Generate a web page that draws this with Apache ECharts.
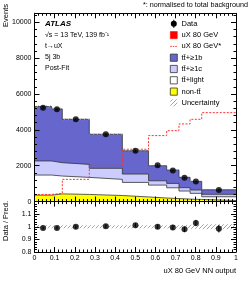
<!DOCTYPE html>
<html><head><meta charset="utf-8">
<script src="https://cdn.jsdelivr.net/npm/echarts@6/dist/echarts.min.js"></script>
<style>html,body{margin:0;padding:0;background:#fff}#c{width:249px;height:281px}</style>
</head><body><div id="c"></div>
<script>
// ---- data ----
const binEdges = [0, 0.085, 0.138, 0.272, 0.436, 0.566, 0.656, 0.717, 0.772, 0.83, 1];
const nonTT   = [360, 430, 400, 340, 260, 200, 170, 140, 120, 60];
const ttLight = [1120, 995, 950, 900, 810, 720, 600, 450, 340, 210];
const tt1c    = [785, 745, 725, 615, 465, 240, 245, 185, 185, 135];
const tt1b    = [3035, 3000, 2515, 1900, 1300, 840, 745, 580, 485, 255];
const signalNorm = [400, 460, 1240, 2020, 2920, 3680, 3955, 4330, 4590, 4960];
const dataVals = [5240, 5150, 4590, 3750, 2830, 2020, 1730, 1335, 1115, 640];
const dataErr  = [72, 72, 68, 61, 53, 45, 42, 37, 33, 25];
const ratioVals = [0.99, 0.99, 1.0, 1.005, 1.012, 1.0, 0.995, 0.98, 1.03, 0.985];
const ratioErr  = [0.012, 0.012, 0.013, 0.014, 0.016, 0.018, 0.02, 0.022, 0.025, 0.03];
const relUnc    = [0.012, 0.012, 0.012, 0.012, 0.012, 0.012, 0.013, 0.014, 0.016, 0.02];
const xTicks = ['0','0.1','0.2','0.3','0.4','0.5','0.6','0.7','0.8','0.9','1'];
const legendNames = ['Data','uX 80 GeV','uX 80 GeV*','tt\u0304+\u22651b','tt\u0304+\u22651c','tt\u0304+light','non-tt\u0304','Uncertainty'];

// ---- derived ----
const nb = binEdges.length - 1;
const centers = [];
for (let i = 0; i < nb; i++) centers.push((binEdges[i] + binEdges[i+1]) / 2);
const lvlNon = nonTT.slice();
const lvlLight = lvlNon.map((v,i)=>v+ttLight[i]);
const lvl1c = lvlLight.map((v,i)=>v+tt1c[i]);
const lvlTot = lvl1c.map((v,i)=>v+tt1b[i]);
function stepPts(vals){ const p = []; for (let i=0;i<nb;i++) p.push([binEdges[i], vals[i]]); p.push([binEdges[nb], vals[nb-1]]); return p; }

const FONT = '"Liberation Sans", Arial, sans-serif';
function hatch(){
  const c = document.createElement('canvas'); c.width = 4; c.height = 4;
  const g = c.getContext('2d'); g.strokeStyle = '#9a9a9a'; g.lineWidth = 0.9;
  g.beginPath(); g.moveTo(0,4); g.lineTo(4,0); g.moveTo(-1,1); g.lineTo(1,-1); g.moveTo(3,5); g.lineTo(5,3); g.stroke();
  return {image: c, repeat: 'repeat'};
}
const HATCH = hatch();

const chart = echarts.init(document.getElementById('c'), null, {renderer:'canvas'});

function xa(gi, pos, labels){
  return {type:'value', gridIndex:gi, position:pos, min:0, max:1, interval:0.1, z:10,
    axisLine:{show:true, onZero:false, lineStyle:{color:'#000', width:1}},
    axisTick:{show:true, inside:true, length:5, lineStyle:{color:'#000', width:1}},
    minorTick:{show:true, splitNumber:5, length:2.5, lineStyle:{color:'#000', width:1}},
    splitLine:{show:false},
    axisLabel:{show:labels, fontSize:7, color:'#000', fontFamily:FONT, margin:3,
      formatter:(v)=>xTicks[Math.round(v*10)]}};
}
function ya(gi, pos, labels, min, max, interval, fmt){
  return {type:'value', gridIndex:gi, position:pos, min:min, max:max, interval:interval, z:10,
    axisLine:{show:true, onZero:false, lineStyle:{color:'#000', width:1}},
    axisTick:{show:true, inside:true, length:5, lineStyle:{color:'#000', width:1}},
    minorTick:{show:true, splitNumber:5, length:2.5, lineStyle:{color:'#000', width:1}},
    splitLine:{show:false},
    axisLabel:{show:labels, fontSize:7, color:'#000', fontFamily:FONT, margin:3, showMaxLabel:false, formatter:fmt}};
}

function areaSeries(vals, color){
  return {type:'line', xAxisIndex:0, yAxisIndex:0, step:'end', data:stepPts(vals), showSymbol:false, silent:true,
    lineStyle:{color:'#333', width:0.8}, areaStyle:{color:color, opacity:1, origin:'start'}, z:2};
}
function bandSeries(xi, yi, lo, hi){
  const d = []; for (let i=0;i<nb;i++) d.push([binEdges[i], binEdges[i+1], lo[i], hi[i]]);
  return {type:'custom', xAxisIndex:xi, yAxisIndex:yi, data:d, z:3, silent:true,
    renderItem:(p, api)=>{
      const a = api.coord([api.value(0), api.value(3)]);
      const b = api.coord([api.value(1), api.value(2)]);
      return {type:'rect', shape:{x:a[0], y:a[1], width:b[0]-a[0], height:b[1]-a[1]}, style:{fill:HATCH}};
    }};
}
function errSeries(xi, yi, xs, ys, es){
  const d = xs.map((x,i)=>[x, ys[i]-es[i], ys[i]+es[i]]);
  return {type:'custom', xAxisIndex:xi, yAxisIndex:yi, data:d, z:5, silent:true,
    renderItem:(p, api)=>{
      const a = api.coord([api.value(0), api.value(1)]);
      const b = api.coord([api.value(0), api.value(2)]);
      return {type:'line', shape:{x1:a[0], y1:a[1], x2:b[0], y2:b[1]}, style:{stroke:'#000', lineWidth:1}};
    }};
}

const mainLo = lvlTot.map((v,i)=>v*(1-relUnc[i]));
const mainHi = lvlTot.map((v,i)=>v*(1+relUnc[i]));
const rLo = relUnc.map(u=>1-u), rHi = relUnc.map(u=>1+u);

const series = [
  areaSeries(lvlTot, '#6666cc'),
  areaSeries(lvl1c, '#ccccff'),
  areaSeries(lvlLight, '#ffffff'),
  areaSeries(lvlNon, '#ffff00'),
  bandSeries(0, 0, mainLo, mainHi),
  {type:'line', xAxisIndex:0, yAxisIndex:0, step:'end', data:stepPts(signalNorm), showSymbol:false, silent:true,
    lineStyle:{color:'#ff3030', width:1, type:[2,1.5]}, z:4},
  errSeries(0, 0, centers, dataVals, dataErr),
  {type:'scatter', xAxisIndex:0, yAxisIndex:0, data:centers.map((x,i)=>[x, dataVals[i]]), symbol:'circle', symbolSize:6,
    itemStyle:{color:'#000'}, z:6, silent:true},
  bandSeries(2, 2, rLo, rHi),
  errSeries(2, 2, centers, ratioVals, ratioErr),
  {type:'scatter', xAxisIndex:2, yAxisIndex:2, data:centers.map((x,i)=>[x, ratioVals[i]]), symbol:'circle', symbolSize:6,
    itemStyle:{color:'#000'}, z:6, silent:true}
];

// legend graphics
const LX = 170.3, LT = 181.5, LY0 = 23.8, LDY = 11.3;
const g = [];
function ltext(i){ g.push({type:'text', x:LT, y:LY0+i*LDY, style:{text:legendNames[i], fontSize:7.5, fontFamily:FONT, fill:'#000', align:'left', verticalAlign:'middle'}}); }
// Data
g.push({type:'line', shape:{x1:LX+3.5, y1:LY0-4, x2:LX+3.5, y2:LY0+4}, style:{stroke:'#000', lineWidth:1}});
g.push({type:'circle', shape:{cx:LX+3.5, cy:LY0, r:3}, style:{fill:'#000'}});
ltext(0);
// uX 80 GeV
g.push({type:'rect', shape:{x:LX, y:LY0+LDY-3.6, width:7, height:7.2}, style:{fill:'#ff0000', stroke:'#ff0000', lineWidth:0.5}});
ltext(1);
// uX 80 GeV*
g.push({type:'line', shape:{x1:LX, y1:LY0+2*LDY, x2:LX+7, y2:LY0+2*LDY}, style:{stroke:'#ff3030', lineWidth:1, lineDash:[1.5,1]}});
ltext(2);
const boxCols = ['#6666cc','#ccccff','#ffffff','#ffff00'];
for (let k=0;k<4;k++){
  const y = LY0+(3+k)*LDY;
  g.push({type:'rect', shape:{x:LX, y:y-3.6, width:7, height:7.2}, style:{fill:boxCols[k], stroke:'#333', lineWidth:0.8}});
  ltext(3+k);
}
g.push({type:'rect', shape:{x:LX, y:LY0+7*LDY-3.6, width:7, height:7.2}, style:{fill:HATCH}});
ltext(7);
// top-left labels
const TX = 45;
g.push({type:'text', x:TX, y:24, style:{text:'ATLAS', fontSize:8, fontStyle:'italic', fontWeight:'bold', fontFamily:FONT, fill:'#000', verticalAlign:'middle'}});
g.push({type:'text', x:TX, y:35.3, style:{text:'\u221As = 13 TeV, 139 fb\u207B\u00B9', fontSize:7, fontFamily:FONT, fill:'#000', verticalAlign:'middle'}});
g.push({type:'text', x:TX, y:46.3, style:{text:'t\u2192uX', fontSize:7, fontFamily:FONT, fill:'#000', verticalAlign:'middle'}});
g.push({type:'text', x:TX, y:57.3, style:{text:'5j 3b', fontSize:7, fontFamily:FONT, fill:'#000', verticalAlign:'middle'}});
g.push({type:'text', x:TX, y:68.5, style:{text:'Post-Fit', fontSize:7, fontFamily:FONT, fill:'#000', verticalAlign:'middle'}});
g.push({type:'text', x:248, y:5.5, style:{text:'*: normalised to total background', fontSize:7.2, fontFamily:FONT, fill:'#000', align:'right', verticalAlign:'middle'}});
g.push({type:'text', x:236, y:271, style:{text:'uX 80 GeV NN output', fontSize:7.5, fontFamily:FONT, fill:'#000', align:'right', verticalAlign:'middle'}});
g.push({type:'text', x:5.5, y:15.5, rotation:Math.PI/2, style:{text:'Events', fontSize:7.5, fontFamily:FONT, fill:'#000', align:'center', verticalAlign:'middle'}});
g.push({type:'text', x:6, y:221, rotation:Math.PI/2, style:{text:'Data / Pred.', fontSize:7.5, fontFamily:FONT, fill:'#000', align:'center', verticalAlign:'middle'}});

chart.setOption({
  animation:false,
  textStyle:{fontFamily:FONT},
  grid:[
    {left:34.5, top:13.3, width:201.5, height:188.3, containLabel:false},
    {left:34.5, top:201.6, width:201.5, height:50.4, containLabel:false}
  ],
  xAxis:[xa(0,'bottom',false), xa(0,'top',false), xa(1,'bottom',true), xa(1,'top',false)],
  yAxis:[
    ya(0,'left',true,0,10500,2000,(v)=>String(v)),
    ya(0,'right',false,0,10500,2000),
    ya(1,'left',true,0.8,1.2,0.1,(v)=>String(Math.round(v*10)/10)),
    ya(1,'right',false,0.8,1.2,0.1)
  ],
  series:series,
  graphic:{elements:g}
});
</script></body></html>
